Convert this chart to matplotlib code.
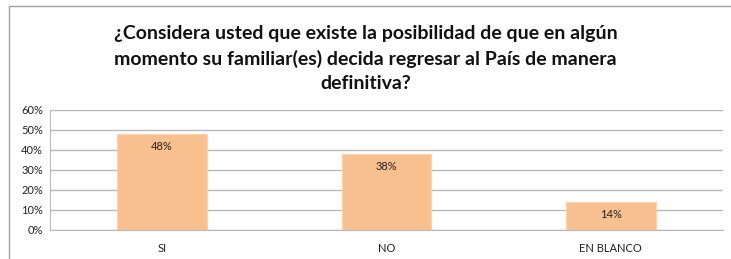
import matplotlib
matplotlib.use("Agg")
import matplotlib.pyplot as plt
from matplotlib.patches import Rectangle

categories = ["SI", "NO", "EN BLANCO"]
values = [0.48, 0.38, 0.14]
value_labels = ["48%", "38%", "14%"]
yticks = [0, 0.1, 0.2, 0.3, 0.4, 0.5, 0.6]
ytick_labels = ["0%", "10%", "20%", "30%", "40%", "50%", "60%"]
title = ("¿Considera usted que existe la posibilidad de que en algún\n"
         "momento su familiar(es) decida regresar al País de manera\n"
         "definitiva?")

plt.rcParams['font.family'] = ['Lato', 'DejaVu Sans']

W, H = 731, 259
fig = plt.figure(figsize=(W / 100, H / 100), dpi=100)
fig.patch.set_facecolor("white")

# outer chart frame (extends past right/bottom edges)
fig.patches.append(Rectangle((9 / W, -0.1), 1.2, (H - 6.5) / H + 0.1,
                             transform=fig.transFigure, fill=False,
                             edgecolor="#a0a0a0", linewidth=1.0))

ax = fig.add_axes([50 / W, (H - 230) / H, (723 - 50) / W, 120 / H])
x = list(range(len(categories)))
bars = ax.bar(x, values, width=0.4, color="#F9C08F", edgecolor="#FCD3AE",
              linewidth=0.8, zorder=3)
for xi, v, lab in zip(x, values, value_labels):
    ax.text(xi, v - 0.033, lab, ha="center", va="top", fontsize=8,
            color="#222222", zorder=4)

ax.set_xlim(-0.5, 2.5)
ax.set_ylim(0, 0.6)
ax.set_yticks(yticks)
ax.set_yticklabels(ytick_labels, fontsize=8, color="#222222")
ax.set_xticks(x)
ax.set_xticklabels(categories, fontsize=8, color="#222222")
ax.tick_params(axis="both", length=0)
ax.tick_params(axis="x", pad=9)
ax.tick_params(axis="y", pad=5)
ax.yaxis.grid(True, color="#b8b8b8", linewidth=1.0, zorder=0)
ax.set_axisbelow(True)
for s in ["top", "right"]:
    ax.spines[s].set_visible(False)
ax.spines["left"].set_color("#b8b8b8")
ax.spines["bottom"].set_color("#b8b8b8")

fig.text(0.5, (H - 25) / H, title, ha="center", va="top", fontsize=14,
         fontweight="bold", color="#111111", linespacing=1.5)

fig.savefig("out.png", dpi=100, facecolor="white")
